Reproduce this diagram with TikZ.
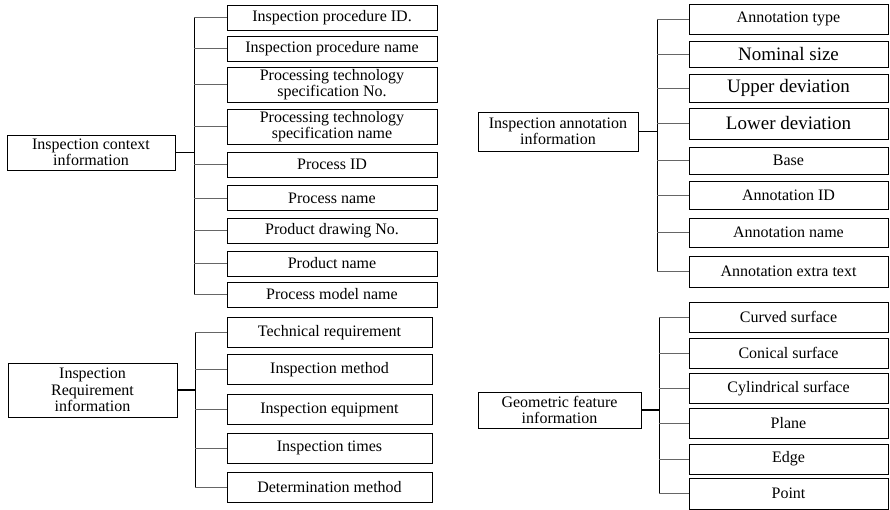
\documentclass[tikz,border=0pt]{standalone}
\usepackage{fontspec}
\setmainfont{Liberation Serif}

\begin{document}
\begin{tikzpicture}[x=1pt,y=-1pt,rootbox/.style={draw=black,line width=0.8pt,align=center,inner sep=2pt,font=\fontsize{16}{16.5}\selectfont},leafbox/.style={draw=black,line width=0.8pt,align=center,inner sep=2pt,font=\fontsize{16}{16.5}\selectfont},bigleaf/.style={leafbox,font=\fontsize{19}{20}\selectfont},stem/.style={line width=1.6pt,draw=black},trunk/.style={line width=0.8pt,draw=black},branch/.style={line width=0.8pt,draw=black!60}]
\useasboundingbox (0,0) rectangle (890,510);
% inspection context information
\node[rootbox,minimum width=168pt,minimum height=35pt] (ctx) at (91,152.5) {Inspection context\\information};
\node[leafbox,minimum width=210pt,minimum height=25pt] (c1) at (332,17.5) {Inspection procedure ID.};
\node[leafbox,minimum width=210pt,minimum height=25pt] (c2) at (332,48.5) {Inspection procedure name};
\node[leafbox,minimum width=210pt,minimum height=35pt] (c3) at (332,84.5) {Processing technology\\specification No.};
\node[leafbox,minimum width=210pt,minimum height=35pt] (c4) at (332,126.5) {Processing technology\\specification name};
\node[leafbox,minimum width=210pt,minimum height=25pt] (c5) at (332,164.5) {Process ID};
\node[leafbox,minimum width=210pt,minimum height=25pt] (c6) at (332,198) {Process name};
\node[leafbox,minimum width=210pt,minimum height=25pt] (c7) at (332,230.5) {Product drawing No.};
\node[leafbox,minimum width=210pt,minimum height=25pt] (c8) at (332,263.5) {Product name};
\node[leafbox,minimum width=210pt,minimum height=25pt] (c9) at (332,294.5) {Process model name};
\coordinate (ctxbus) at (194,152.5);
\draw[stem] (ctx.east) -- (ctxbus);
\draw[trunk] (ctxbus |- c1) -- (ctxbus |- c9);
\draw[branch] (ctxbus |- c1) -- (c1.west);
\draw[branch] (ctxbus |- c2) -- (c2.west);
\draw[branch] (ctxbus |- c3) -- (c3.west);
\draw[branch] (ctxbus |- c4) -- (c4.west);
\draw[branch] (ctxbus |- c5) -- (c5.west);
\draw[branch] (ctxbus |- c6) -- (c6.west);
\draw[branch] (ctxbus |- c7) -- (c7.west);
\draw[branch] (ctxbus |- c8) -- (c8.west);
\draw[branch] (ctxbus |- c9) -- (c9.west);
% inspection requirement information
\node[rootbox,minimum width=169pt,minimum height=54pt] (req) at (92.5,390) {Inspection\\Requirement\\information};
\node[leafbox,minimum width=205pt,minimum height=30pt] (r1) at (329.5,332.5) {Technical requirement};
\node[leafbox,minimum width=205pt,minimum height=30pt] (r2) at (329.5,369.5) {Inspection method};
\node[leafbox,minimum width=205pt,minimum height=30pt] (r3) at (329.5,409.5) {Inspection equipment};
\node[leafbox,minimum width=205pt,minimum height=30pt] (r4) at (329.5,448) {Inspection times};
\node[leafbox,minimum width=205pt,minimum height=30pt] (r5) at (329.5,487.5) {Determination method};
\coordinate (reqbus) at (195,390);
\draw[stem] (req.east) -- (reqbus);
\draw[trunk] (reqbus |- r1) -- (reqbus |- r5);
\draw[branch] (reqbus |- r1) -- (r1.west);
\draw[branch] (reqbus |- r2) -- (r2.west);
\draw[branch] (reqbus |- r3) -- (r3.west);
\draw[branch] (reqbus |- r4) -- (r4.west);
\draw[branch] (reqbus |- r5) -- (r5.west);
% inspection annotation information
\node[rootbox,minimum width=160pt,minimum height=39pt] (ann) at (558,131.5) {Inspection annotation\\information};
\node[leafbox,minimum width=199pt,minimum height=30pt] (a1) at (788.5,19) {Annotation type};
\node[bigleaf,minimum width=199pt,minimum height=26pt] (a2) at (788.5,54) {Nominal size};
\node[bigleaf,minimum width=199pt,minimum height=28pt] (a3) at (788.5,88) {Upper deviation};
\node[bigleaf,minimum width=199pt,minimum height=31pt] (a4) at (788.5,123.5) {Lower deviation};
\node[leafbox,minimum width=199pt,minimum height=27pt] (a5) at (788.5,160.5) {Base};
\node[leafbox,minimum width=199pt,minimum height=28pt] (a6) at (788.5,195) {Annotation ID};
\node[leafbox,minimum width=199pt,minimum height=29pt] (a7) at (788.5,232.5) {Annotation name};
\node[leafbox,minimum width=199pt,minimum height=31pt] (a8) at (788.5,271.5) {Annotation extra text};
\coordinate (annbus) at (657,131.5);
\draw[stem] (ann.east) -- (annbus);
\draw[trunk] (annbus |- a1) -- (annbus |- a8);
\draw[branch] (annbus |- a1) -- (a1.west);
\draw[branch] (annbus |- a2) -- (a2.west);
\draw[branch] (annbus |- a3) -- (a3.west);
\draw[branch] (annbus |- a4) -- (a4.west);
\draw[branch] (annbus |- a5) -- (a5.west);
\draw[branch] (annbus |- a6) -- (a6.west);
\draw[branch] (annbus |- a7) -- (a7.west);
\draw[branch] (annbus |- a8) -- (a8.west);
% geometric feature information
\node[rootbox,minimum width=163pt,minimum height=36pt] (geo) at (559.5,410) {Geometric feature\\information};
\node[leafbox,minimum width=199pt,minimum height=30pt] (g1) at (788.5,317) {Curved surface};
\node[leafbox,minimum width=199pt,minimum height=30pt] (g2) at (788.5,353) {Conical surface};
\node[leafbox,minimum width=199pt,minimum height=30pt] (g3) at (788.5,388.5) {Cylindrical surface};
\node[leafbox,minimum width=199pt,minimum height=30pt] (g4) at (788.5,423.5) {Plane};
\node[leafbox,minimum width=199pt,minimum height=30pt] (g5) at (788.5,459) {Edge};
\node[leafbox,minimum width=199pt,minimum height=31pt] (g6) at (788.5,493.5) {Point};
\coordinate (geobus) at (659,410);
\draw[stem] (geo.east) -- (geobus);
\draw[trunk] (geobus |- g1) -- (geobus |- g6);
\draw[branch] (geobus |- g1) -- (g1.west);
\draw[branch] (geobus |- g2) -- (g2.west);
\draw[branch] (geobus |- g3) -- (g3.west);
\draw[branch] (geobus |- g4) -- (g4.west);
\draw[branch] (geobus |- g5) -- (g5.west);
\draw[branch] (geobus |- g6) -- (g6.west);
\end{tikzpicture}
\end{document}
